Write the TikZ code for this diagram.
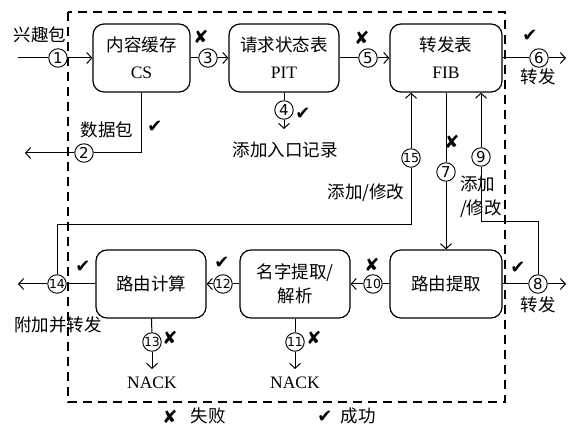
\documentclass[tikz,border=0pt]{standalone}
\usepackage{fontspec}
\setmainfont{Liberation Serif}
\newfontfamily\cjk{Noto Sans CJK SC}
\newfontfamily\symfont{DejaVu Sans}
\usetikzlibrary{arrows.meta}
\tikzset{
  >={Straight Barb[length=5pt,width=11pt,line width=1pt]},
}
\tikzstyle{box}=[draw,line width=1.2pt,rounded corners=11pt,minimum height=68pt,
  align=center,font=\fontsize{17.5}{27}\selectfont]
\tikzstyle{num}=[draw,circle,fill=white,inner sep=0pt,minimum size=18.5pt,line width=0.9pt,
  font=\fontsize{15}{15}\symfont]
\tikzstyle{numb}=[num,font=\fontsize{12.5}{12.5}\symfont]
\tikzstyle{txt}=[inner sep=1pt,font=\fontsize{17.5}{24}\cjk]
\tikzstyle{ok}=[inner sep=0pt,font=\fontsize{18}{18}\symfont]
\tikzstyle{every path}=[line width=1pt]

\begin{document}
\begin{tikzpicture}[x=1pt,y=-1pt]
  \useasboundingbox (0,0) rectangle (568,430);
  % frame
  \draw[line width=1.1pt,dash pattern=on 9pt off 6pt] (68,12) rectangle (505,402);

  % boxes
  \node[box,minimum width=97pt]  (cs)  at (141.5,58) {{\cjk 内容缓存}\\CS};
  \node[box,minimum width=110pt] (pit) at (284,58)   {{\cjk 请求状态表}\\PIT};
  \node[box,minimum width=112pt] (fib) at (446,58)   {{\cjk 转发表}\\FIB};
  \node[box,minimum width=112pt] (rx)  at (446,284)  {\cjk 路由提取};
  \node[box,minimum width=110pt] (nm)  at (295,284)  {{\cjk 名字提取/}\\[-3pt]{\cjk 解析}};
  \node[box,minimum width=110pt] (rc)  at (151,284)  {\cjk 路由计算};

  % numbered points
  \node[num]  (n1)  at (58,58)   {1};
  \node[num]  (n2)  at (84,153)  {2};
  \node[num]  (n3)  at (208,58)  {3};
  \node[num]  (n4)  at (284,110) {4};
  \node[num]  (n5)  at (368,58)  {5};
  \node[num]  (n6)  at (539,58)  {6};
  \node[num]  (n7)  at (446,172) {7};
  \node[num]  (n8)  at (538,284) {8};
  \node[num]  (n9)  at (481,157) {9};
  \node[numb] (n10) at (373,284) {10};
  \node[numb] (n11) at (295,342) {11};
  \node[numb] (n12) at (223,284) {12};
  \node[numb] (n13) at (152,342) {13};
  \node[numb] (n14) at (57,284)  {14};
  \node[numb] (n15) at (411,158) {15};

  \coordinate (in1)   at (18,58);
  \coordinate (out2)  at (25,153);
  \coordinate (e4)    at (284,129);
  \coordinate (out6)  at (566,58);
  \coordinate (k9)    at (481,222);
  \coordinate (k15)   at (411,225);
  \coordinate (out8)  at (566,284);
  \coordinate (out14) at (18,284);
  \coordinate (e11)   at (295,369);
  \coordinate (e13)   at (152,369);

  % upper row
  \draw (in1) -- (n1);
  \draw[->] (n1) -- (cs);
  \draw (cs.south) |- (n2);
  \draw[->] (n2) -- (out2);
  \draw (cs) -- (n3);
  \draw[->] (n3) -- (pit);
  \draw (pit) -- (n4);
  \draw[->] (n4) -- (e4);
  \draw (pit) -- (n5);
  \draw[->] (n5) -- (fib);
  \draw (fib) -- (n6);
  \draw[->] (n6) -- (out6);

  % between rows
  \draw[->] (n15) -- (n15 |- fib.south);
  \draw (n14) |- (k15) -- (n15);
  \draw (fib) -- (n7);
  \draw[->] (n7) -- (rx);
  \draw[->] (n9) -- (n9 |- fib.south);
  \draw (n9) -- (k9) -| (n8);

  % lower row
  \draw (rx) -- (n8);
  \draw[->] (n8) -- (out8);
  \draw (rx) -- (n10);
  \draw[->] (n10) -- (nm);
  \draw (nm) -- (n12);
  \draw[->] (n12) -- (rc);
  \draw (rc) -- (n14);
  \draw[->] (n14) -- (out14);
  \draw (rc) -- (n13);
  \draw[->] (n13) -- (e13);
  \draw (nm) -- (n11);
  \draw[->] (n11) -- (e11);

  % labels
  \node[txt] (l1)  at (40,35)   {兴趣包};
  \node[txt] (l2)  at (107,130) {数据包};
  \node[txt] (l4)  at (285,150) {添加入口记录};
  \node[txt] (l6)  at (538,77)  {转发};
  \node[txt] (l15) at (366,193) {添加/修改};
  \node[txt,align=left] (l9) at (481,197) {添加\\/修改};
  \node[txt] (l8)  at (538,305) {转发};
  \node[txt] (l14) at (58,325)  {附加并转发};
  \node[inner sep=1pt,font=\fontsize{17.5}{20}\selectfont] (l13) at (152,383) {NACK};
  \node[inner sep=1pt,font=\fontsize{17.5}{20}\selectfont] (l11) at (295,383) {NACK};

  % marks
  \node[ok] (m2)  at (155,127) {✔};
  \node[ok] (m3)  at (201,37)  {✘};
  \node[ok] (m4)  at (303,114) {✔};
  \node[ok] (m5)  at (362,38)  {✘};
  \node[ok] (m6)  at (530,36)  {✔};
  \node[ok] (m7)  at (452,142) {✘};
  \node[ok] (m8)  at (518,268) {✔};
  \node[ok] (m10) at (372,265) {✘};
  \node[ok] (m12) at (222,263) {✔};
  \node[ok] (m14) at (83,267)  {✔};
  \node[ok] (m13) at (170,338) {✘};
  \node[ok] (m11) at (314,338) {✘};

  % legend
  \node[ok]  (kx) at (170,417) {✘};
  \node[txt] (kf) at (208,416) {失败};
  \node[ok]  (kv) at (325,417) {✔};
  \node[txt] (ks) at (358,416) {成功};
\end{tikzpicture}
\end{document}
